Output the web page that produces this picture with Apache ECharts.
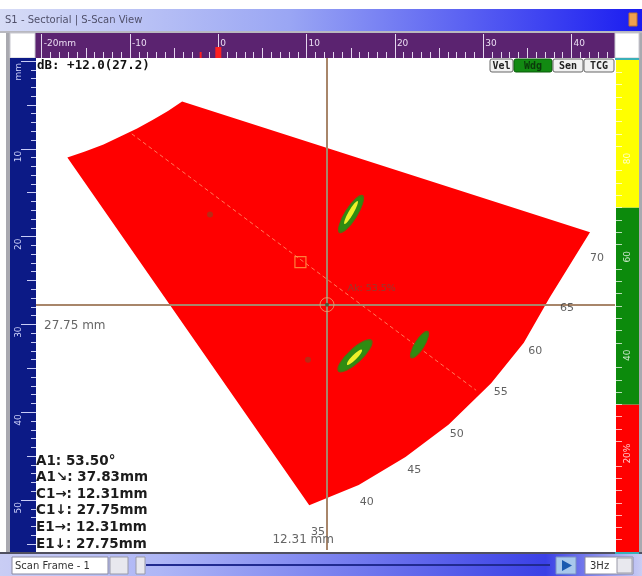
<!DOCTYPE html>
<html><head><meta charset="utf-8">
<script src="https://cdn.jsdelivr.net/npm/echarts@6/dist/echarts.min.js"></script>
<style>html,body{margin:0;padding:0;background:#fff}#c{width:642px;height:576px}</style>
</head><body><div id="c"></div>
<script>
// ---------- data (mm) ----------
const beamAngles  = [35, 40, 45, 50, 55, 60, 65, 70];
const beamStartX  = [-17.1, -15.1, -13.0, -11.1, -9.2, -7.4, -5.7, -4.1];
const beamStartY  = [11.0, 10.3, 9.5, 8.6, 7.7, 6.7, 5.7, 4.6];
const beamEndX    = [10.3, 15.9, 21.2, 26.1, 30.9, 34.6, 37.5, 42.1];
const beamEndY    = [50.6, 48.3, 45.1, 41.4, 36.7, 32.1, 27.0, 19.5];
const angleLabelX = [11.3, 16.8, 22.2, 27.0, 32.0, 35.9, 39.5, 42.9];
const angleLabelY = [53.6, 50.2, 46.6, 42.5, 37.7, 33.0, 28.1, 22.5];
const cursorBeamX = [-9.8, 29.2];
const cursorBeamY = [8.3, 37.5];
const cursorC     = [12.31, 27.75];
const refMark     = [9.3, 22.9];
// indications: centre x, centre y, length, width (mm), orientation (deg)
const greenX   = [15.03, 15.48, 22.79];
const greenY   = [17.43, 33.57, 32.31];
const greenLen = [4.8, 5.0, 3.4];
const greenWid = [1.4, 1.6, 1.1];
const greenRot = [58, 43, 58];
const yellowX   = [15.03, 15.42];
const yellowY   = [17.26, 33.74];
const yellowLen = [3.0, 2.4];
const yellowWid = [0.55, 0.55];
const yellowRot = [60, 45];
const spotX = [-0.94, 10.16];
const spotY = [17.49, 34.03];
// rulers
const xRange = [-20.65, 44.93];
const yRange = [-0.34, 55.69];
const xMajor = [-20, -10, 0, 10, 20, 30, 40];
const xMid   = [-15, -5, 5, 15, 25, 35];
const yMajor = [0, 10, 20, 30, 40, 50];
const yMid   = [5, 15, 25, 35, 45, 55];
// colour palette bar (% amplitude)
const paletteBands = [30, 40, 30];
const paletteLabels = [20, 40, 60, 80];
const paletteTicks = [2.5,5,7.5,10,12.5,15,17.5,22.5,25,27.5,30,32.5,35,37.5,42.5,45,47.5,50,52.5,55,57.5,62.5,65,67.5,70,72.5,75,77.5,82.5,85,87.5,90,92.5,95,97.5];
// readouts
const readoutNames  = ['A1', 'A1\u2198', 'C1\u2192', 'C1\u2193', 'E1\u2192', 'E1\u2193'];
const readoutValues = ['53.50\u00b0', '37.83mm', '12.31mm', '27.75mm', '12.31mm', '27.75mm'];
const gainText = 'dB: +12.0(27.2)';
const buttons = ['Vel', 'Wdg', 'Sen', 'TCG'];

const chart = echarts.init(document.getElementById('c'));
const rulerTickColor = '#e4d6ee';
const blueTickColor = '#c9cdf7';

function ellipseSeries(xs, ys, ls, ws, rs, fill, stroke, z) {
  const data = xs.map((x, i) => [x, ys[i], ls[i], ws[i], rs[i]]);
  return {
    type: 'custom', xAxisIndex: 0, yAxisIndex: 0, z: z, silent: true, clip: true,
    data: data,
    renderItem: (params, api) => {
      const c = api.coord([api.value(0), api.value(1)]);
      const sx = api.size([api.value(2), 0])[0] / 2;
      const sy = api.size([0, api.value(3)])[1] / 2;
      return {
        type: 'circle', x: c[0], y: c[1], rotation: api.value(4) * Math.PI / 180,
        scaleX: sx, scaleY: sy, shape: { cx: 0, cy: 0, r: 1 },
        style: stroke ? { fill: fill, stroke: stroke, lineWidth: 1.2, strokeNoScale: true } : { fill: fill }
      };
    }
  };
}
const noLine = { show: false, onZero: false };

const option = {
  animation: false,
  backgroundColor: '#ffffff',
  grid: [
    { left: 36, right: 27, top: 58, bottom: 26, show: false },
    { left: 616, width: 23, top: 60, height: 492, show: false }
  ],
  xAxis: [
    {
      type: 'value', gridIndex: 0, min: xRange[0], max: xRange[1], position: 'top',
      minInterval: 10, maxInterval: 10,
      axisLine: noLine, splitLine: { show: false },
      axisTick: { show: true, customValues: xMajor, length: 24, lineStyle: { color: rulerTickColor, width: 1 } },
      minorTick: { show: true, splitNumber: 10, length: 6, lineStyle: { color: rulerTickColor, width: 1 } },
      axisLabel: {
        customValues: xMajor, formatter: v => (v === xMajor[0] ? v + 'mm' : String(v)),
        color: '#eadcf2', fontSize: 9, fontFamily: 'DejaVu Sans', align: 'left', margin: 10, padding: [0, 0, 0, 2]
      }
    },
    {
      type: 'value', gridIndex: 0, min: xRange[0], max: xRange[1], position: 'top',
      axisLine: noLine, splitLine: { show: false }, axisLabel: { show: false },
      axisTick: { show: true, customValues: xMid, length: 10, lineStyle: { color: rulerTickColor, width: 1 } }
    },
    { type: 'category', gridIndex: 1, data: ['p'], show: false }
  ],
  yAxis: [
    {
      type: 'value', gridIndex: 0, min: yRange[0], max: yRange[1], inverse: true, position: 'left',
      minInterval: 10, maxInterval: 10,
      axisLine: noLine, splitLine: { show: false },
      axisTick: { show: true, customValues: yMajor, length: 15, lineStyle: { color: blueTickColor, width: 1 } },
      minorTick: { show: true, splitNumber: 10, length: 5, lineStyle: { color: blueTickColor, width: 1 } },
      axisLabel: {
        customValues: yMajor, formatter: v => (v === 0 ? 'mm' : String(v)), rotate: 90,
        color: '#cdd1fa', fontSize: 9, fontFamily: 'DejaVu Sans', align: 'right', verticalAlign: 'middle', margin: 17,
        padding: [0, 2, 0, 0]
      }
    },
    {
      type: 'value', gridIndex: 0, min: yRange[0], max: yRange[1], inverse: true, position: 'left',
      axisLine: noLine, splitLine: { show: false }, axisLabel: { show: false },
      axisTick: { show: true, customValues: yMid, length: 9, lineStyle: { color: blueTickColor, width: 1 } }
    },
    {
      type: 'value', gridIndex: 1, min: 0, max: 100, position: 'left', z: 10,
      axisLine: noLine, splitLine: { show: false },
      axisTick: { show: true, inside: true, customValues: paletteTicks, length: 6, lineStyle: { color: 'rgba(255,255,255,0.7)', width: 1 } },
      axisLabel: {
        inside: true, customValues: paletteLabels, formatter: v => (v === paletteLabels[0] ? v + '%' : String(v)),
        rotate: 90, color: 'rgba(255,255,255,0.8)', fontSize: 9, fontFamily: 'DejaVu Sans', margin: 12,
        align: 'center', verticalAlign: 'middle'
      }
    }
  ],
  series: [
    // scan area
    {
      type: 'custom', xAxisIndex: 0, yAxisIndex: 0, z: 2, silent: true, clip: true,
      data: [[0, 0]],
      renderItem: (params, api) => {
        const pts = [];
        for (let i = 0; i < beamAngles.length; i++) pts.push(api.coord([beamStartX[i], beamStartY[i]]));
        for (let i = beamAngles.length - 1; i >= 0; i--) pts.push(api.coord([beamEndX[i], beamEndY[i]]));
        return { type: 'polygon', shape: { points: pts }, style: { fill: '#ff0000' } };
      }
    },
    // cursor beam
    {
      type: 'line', xAxisIndex: 0, yAxisIndex: 0, z: 3, silent: true, symbol: 'none',
      data: cursorBeamX.map((x, i) => [x, cursorBeamY[i]]),
      lineStyle: { color: '#ff7a5a', width: 1, type: [4, 3] }
    },
    ellipseSeries(greenX, greenY, greenLen, greenWid, greenRot, '#2f8c12', '#5a6a12', 4),
    ellipseSeries(yellowX, yellowY, yellowLen, yellowWid, yellowRot, '#eef02a', null, 5),
    {
      type: 'scatter', xAxisIndex: 0, yAxisIndex: 0, z: 4, silent: true, symbolSize: 6,
      data: spotX.map((x, i) => [x, spotY[i]]),
      itemStyle: { color: '#a8361a' }
    },
    {
      type: 'scatter', xAxisIndex: 0, yAxisIndex: 0, z: 4, silent: true, symbol: 'rect', symbolSize: 11,
      data: [refMark],
      itemStyle: { color: 'rgba(0,0,0,0)', borderColor: '#ff9e4a', borderWidth: 1.2 }
    },
    // crosshair
    {
      type: 'scatter', xAxisIndex: 0, yAxisIndex: 0, z: 6, silent: true, symbolSize: 14,
      data: [cursorC],
      itemStyle: { color: 'rgba(0,0,0,0)', borderColor: '#f0a070', borderWidth: 1 },
      label: {
        show: true, position: 'right', offset: [8, -16], formatter: 'Ak: 53.5%',
        color: '#7a4a3a', fontSize: 9.5, fontFamily: 'DejaVu Sans'
      },
      markLine: {
        silent: true, symbol: 'none', animation: false, label: { show: false },
        lineStyle: { color: '#a8866a', width: 2, type: 'solid' },
        data: [{ xAxis: cursorC[0] }, { yAxis: cursorC[1] }]
      }
    },
    {
      type: 'scatter', xAxisIndex: 0, yAxisIndex: 0, z: 7, silent: true, symbolSize: 4,
      data: [cursorC], itemStyle: { color: '#2e5a34' }
    },
    // angle labels
    {
      type: 'scatter', xAxisIndex: 0, yAxisIndex: 0, z: 6, silent: true, symbolSize: 0,
      data: angleLabelX.map((x, i) => [x, angleLabelY[i], beamAngles[i]]),
      label: {
        show: true, position: 'inside', formatter: p => String(p.value[2]),
        color: '#3a3a3a', fontSize: 11, fontFamily: 'DejaVu Sans'
      }
    },
    // palette
    ...paletteBands.map((v, i) => ({
      type: 'bar', xAxisIndex: 2, yAxisIndex: 2, stack: 'pal', barWidth: '100%', silent: true, z: 1,
      data: [v], itemStyle: { color: ['#ff0000', '#0c8a0c', '#ffff00'][i] }
    }))
  ]
};
chart.setOption(option);

// ---------- decorations / texts ----------
const pC = chart.convertToPixel({ gridIndex: 0 }, cursorC);
const g = [];
// window title bar
g.push({ type: 'rect', z: -5, shape: { x: 0, y: 9, width: 642, height: 22 },
  style: { fill: new echarts.graphic.LinearGradient(0, 0, 1, 0, [
    { offset: 0, color: '#d7dcf6' }, { offset: 0.45, color: '#9aa6f4' }, { offset: 1, color: '#1a1cf0' }]) } });
g.push({ type: 'text', z: 50, style: { x: 5, y: 20, text: 'S1 - Sectorial | S-Scan View', fill: '#50506a',
  font: '10px "DejaVu Sans"', verticalAlign: 'middle' } });
g.push({ type: 'rect', z: 50, shape: { x: 629, y: 13, width: 8, height: 13 }, style: { fill: '#f0a050', stroke: '#c07030' } });
g.push({ type: 'rect', z: -5, shape: { x: 0, y: 31, width: 642, height: 2 }, style: { fill: '#b8b8c0' } });
// frame
g.push({ type: 'rect', z: -5, shape: { x: 6, y: 33, width: 4, height: 520 }, style: { fill: '#a9a9b0' } });
g.push({ type: 'rect', z: -5, shape: { x: 639, y: 33, width: 3, height: 520 }, style: { fill: '#a9a9b0' } });
// top ruler
g.push({ type: 'rect', z: -4, shape: { x: 35, y: 33, width: 580, height: 25 }, style: { fill: '#5b2370' } });
g.push({ type: 'rect', z: -4, shape: { x: 10, y: 33, width: 25, height: 25 }, style: { fill: '#ffffff', stroke: '#c8c8d0' } });
g.push({ type: 'rect', z: -4, shape: { x: 615, y: 33, width: 24, height: 25 }, style: { fill: '#ffffff', stroke: '#c8c8d0' } });
const p0 = chart.convertToPixel({ xAxisIndex: 0 }, 0);
const pm = chart.convertToPixel({ xAxisIndex: 0 }, -2);
g.push({ type: 'rect', z: 60, shape: { x: p0 - 3, y: 47, width: 6, height: 11 }, style: { fill: '#ff2020' } });
g.push({ type: 'rect', z: 60, shape: { x: pm - 1, y: 52, width: 2, height: 6 }, style: { fill: '#ff2020' } });
// left ruler
g.push({ type: 'rect', z: -4, shape: { x: 10, y: 58, width: 26, height: 494 }, style: { fill: '#0c1a86' } });
// palette frame lines
g.push({ type: 'rect', z: 60, shape: { x: 615, y: 58, width: 24, height: 2 }, style: { fill: '#3ab0b8' } });
g.push({ type: 'rect', z: 60, shape: { x: 615, y: 552, width: 24, height: 2 }, style: { fill: '#3ab0b8' } });
// gain readout
g.push({ type: 'text', z: 50, style: { x: 37, y: 66, text: gainText, fill: '#111', font: 'bold 12.5px "DejaVu Sans Mono"', verticalAlign: 'middle' } });
// buttons
const bx = [490, 514, 553, 584], bw = [23, 38, 30, 30];
buttons.forEach((b, i) => {
  const on = b === 'Wdg';
  g.push({ type: 'rect', z: 50, shape: { x: bx[i], y: 59, width: bw[i], height: 13, r: 2 },
    style: { fill: on ? '#128a12' : '#f2f2f2', stroke: on ? '#0a5a0a' : '#666', lineWidth: 1 } });
  g.push({ type: 'text', z: 51, style: { x: bx[i] + bw[i] / 2, y: 66, text: b, fill: on ? '#0b3a0b' : '#222',
    font: 'bold 10px "DejaVu Sans Mono"', align: 'center', verticalAlign: 'middle' } });
});
// cursor readouts next to cursor lines
g.push({ type: 'text', z: 50, style: { x: 44, y: pC[1] + 21, text: cursorC[1].toFixed(2) + ' mm', fill: '#666', font: '12px "DejaVu Sans"', verticalAlign: 'middle' } });
g.push({ type: 'text', z: 50, style: { x: pC[0] + 7, y: 540, text: cursorC[0].toFixed(2) + ' mm', fill: '#666', font: '12px "DejaVu Sans"', align: 'right', verticalAlign: 'middle' } });
// measurement block
readoutNames.forEach((n, i) => {
  g.push({ type: 'text', z: 50, style: { x: 36, y: 461 + i * 16.6, text: n + ': ' + readoutValues[i], fill: '#1c1c1c',
    font: 'bold 13.5px "DejaVu Sans"', verticalAlign: 'middle' } });
});
// bottom scan bar
g.push({ type: 'rect', z: -5, shape: { x: 0, y: 552, width: 642, height: 2 }, style: { fill: '#505060' } });
g.push({ type: 'rect', z: -5, shape: { x: 0, y: 554, width: 642, height: 22 },
  style: { fill: new echarts.graphic.LinearGradient(0, 0, 1, 0, [
    { offset: 0, color: '#c9cdf4' }, { offset: 0.25, color: '#aeb6f6' }, { offset: 0.85, color: '#3a40e6' }, { offset: 1, color: '#c9cdf4' }]) } });
g.push({ type: 'rect', z: 50, shape: { x: 12, y: 557, width: 96, height: 17 }, style: { fill: '#ffffff', stroke: '#8a8aa0' } });
g.push({ type: 'text', z: 51, style: { x: 15, y: 566, text: 'Scan Frame - 1', fill: '#333', font: '10px "DejaVu Sans"', verticalAlign: 'middle' } });
g.push({ type: 'rect', z: 50, shape: { x: 110, y: 557, width: 18, height: 17 }, style: { fill: '#e8e8ee', stroke: '#9a9aa8' } });
g.push({ type: 'rect', z: 50, shape: { x: 136, y: 557, width: 9, height: 17 }, style: { fill: '#e8e8ee', stroke: '#9a9aa8' } });
g.push({ type: 'rect', z: 50, shape: { x: 146, y: 564, width: 404, height: 2 }, style: { fill: '#202a90' } });
g.push({ type: 'rect', z: 50, shape: { x: 556, y: 557, width: 20, height: 17 }, style: { fill: '#a8c8ec', stroke: '#7a90c0' } });
g.push({ type: 'polygon', z: 51, shape: { points: [[562, 560], [562, 571], [572, 565.5]] }, style: { fill: '#1a5ab0' } });
g.push({ type: 'rect', z: 50, shape: { x: 585, y: 557, width: 48, height: 17 }, style: { fill: '#ffffff', stroke: '#8a8aa0' } });
g.push({ type: 'text', z: 51, style: { x: 590, y: 566, text: '3Hz', fill: '#333', font: '10px "DejaVu Sans"', verticalAlign: 'middle' } });
g.push({ type: 'rect', z: 51, shape: { x: 617, y: 558, width: 15, height: 15 }, style: { fill: '#e8e8ee', stroke: '#9a9aa8' } });
chart.setOption({ graphic: g });
</script></body></html>
